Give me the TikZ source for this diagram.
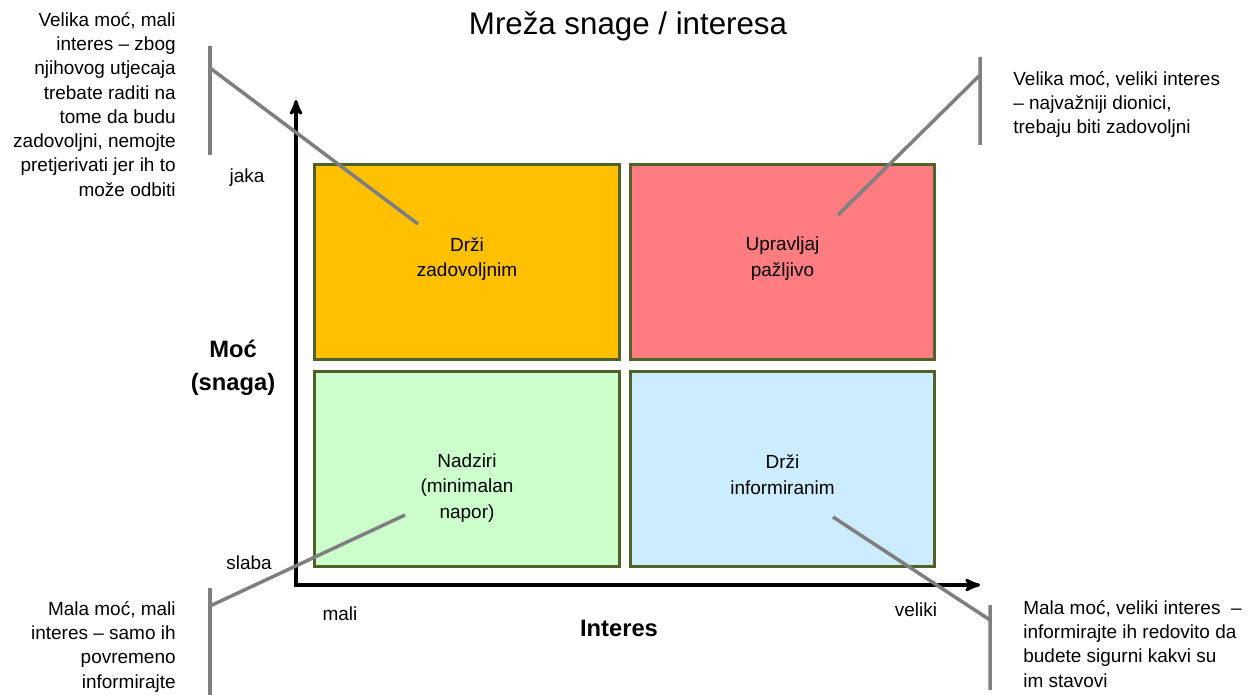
\documentclass[tikz,border=0pt]{standalone}
\usepackage{fontspec}
\setmainfont{Liberation Sans}
\usetikzlibrary{arrows}

\definecolor{quadline}{HTML}{4F6228}
\definecolor{leadgray}{HTML}{7F7F7F}
\definecolor{satfill}{HTML}{FFC000}
\definecolor{manfill}{HTML}{FF7C80}
\definecolor{monfill}{HTML}{CCFFCC}
\definecolor{inffill}{HTML}{CCECFF}

\begin{document}
\begin{tikzpicture}[x=0.02cm,y=-0.02cm,>={stealth'[scale=1.4]},
    quad/.style={draw=quadline,line width=1.7pt,minimum width=6.1cm,minimum height=3.9cm,inner sep=0pt},
    qtext/.style={align=center,font=\fontsize{10.8}{14.7}\selectfont},
    note/.style={inner sep=0pt,font=\fontsize{10.8}{13.8}\selectfont},
    lead/.style={draw=leadgray,line width=2pt},
    axis/.style={draw=black,line width=1.8pt},
    axlab/.style={font=\fontsize{10.8}{13}\selectfont},
    axtitle/.style={align=center,font=\bfseries\fontsize{13.5}{18.7}\selectfont}]

  \useasboundingbox (0,0) rectangle (1256,695);

  \node (title) at (628,26) {\fontsize{17.8}{20}\selectfont Mreža snage / interesa};

  % the four quadrants
  \node[quad,fill=satfill] (keepsat) at (467,262) {};
  \node[quad,fill=manfill] (manage) at (782.5,262) {};
  \node[quad,fill=monfill] (monitor) at (467,469) {};
  \node[quad,fill=inffill] (keepinf) at (782.5,469) {};

  \node[qtext] (keepsat-t) at (467,259) {Drži\\zadovoljnim};
  \node[qtext] (manage-t) at (782.5,259) {Upravljaj\\pažljivo};
  \node[qtext] (monitor-t) at (467,488) {Nadziri\\(minimalan\\napor)};
  \node[qtext] (keepinf-t) at (782.5,475) {Drži\\informiranim};

  % axes
  \coordinate (ytop) at (296,100);
  \coordinate (corner) at (296,585);
  \coordinate (xend) at (980,585);
  \draw[axis,<->] (ytop) -- (corner) -- (xend);

  \node[axlab] (strong) at (247,178) {jaka};
  \node[axlab] (weak) at (249,563) {slaba};
  \node[axlab] (low) at (340,614) {mali};
  \node[axlab] (high) at (916,610) {veliki};
  \node[axtitle] (power) at (233,368) {Moć\\(snaga)};
  \node[axtitle] (interest) at (619,628) {Interes};

  % callouts
  \node[note,align=right,anchor=north east] (tl-note) at (176,12)
    {Velika moć, mali\\interes -- zbog\\njihovog utjecaja\\trebate raditi na\\tome da budu\\zadovoljni, nemojte\\pretjerivati jer ih to\\može odbiti};
  \node[note,align=left,anchor=north west] (tr-note) at (1013,71)
    {Velika moć, veliki interes\\-- najvažniji dionici,\\trebaju biti zadovoljni};
  \node[note,align=right,anchor=north east] (bl-note) at (176,601)
    {Mala moć, mali\\interes -- samo ih\\povremeno\\informirajte};
  \node[note,align=left,anchor=north west] (br-note) at (1023,600)
    {Mala moć, veliki interes~ --\\informirajte ih redovito da\\budete sigurni kakvi su\\im stavovi};

  \coordinate (tl-a) at (210,46);
  \coordinate (tl-b) at (210,155);
  \coordinate (tl-j) at (210,68);
  \coordinate (tl-p) at (418,224);
  \coordinate (tr-a) at (980,57);
  \coordinate (tr-b) at (980,145);
  \coordinate (tr-j) at (980,75);
  \coordinate (tr-p) at (838,215);
  \coordinate (bl-a) at (210,588);
  \coordinate (bl-b) at (210,695);
  \coordinate (bl-j) at (210,606);
  \coordinate (bl-p) at (405,515);
  \coordinate (br-a) at (990,605);
  \coordinate (br-b) at (990,690);
  \coordinate (br-j) at (990,620);
  \coordinate (br-p) at (833,517);

  \draw[lead] (tl-a) -- (tl-b) (tl-j) -- (tl-p);
  \draw[lead] (tr-a) -- (tr-b) (tr-j) -- (tr-p);
  \draw[lead] (bl-a) -- (bl-b) (bl-j) -- (bl-p);
  \draw[lead] (br-a) -- (br-b) (br-j) -- (br-p);

\end{tikzpicture}
\end{document}
